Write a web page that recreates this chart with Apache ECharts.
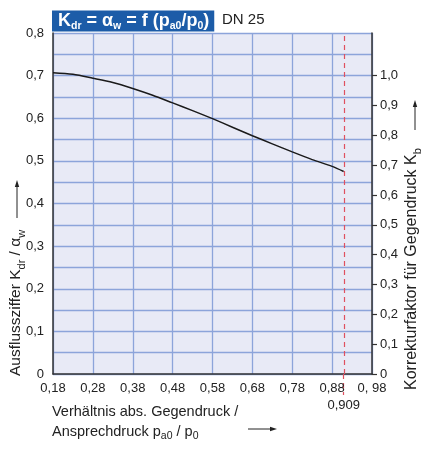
<!DOCTYPE html>
<html>
<head>
<meta charset="utf-8">
<script src="https://cdn.jsdelivr.net/npm/echarts@6/dist/echarts.min.js"></script>
<style>html,body{margin:0;padding:0;background:#fff}#c{width:422px;height:450px}</style>
</head>
<body>
<div id="c"></div>
<script>
// Data
const xValues = [0.18, 0.23, 0.28, 0.33, 0.38, 0.43, 0.48, 0.53, 0.58, 0.63, 0.68, 0.73, 0.78, 0.83, 0.88, 0.909];
const kdrValues = [0.707, 0.703, 0.694, 0.684, 0.670, 0.654, 0.636, 0.618, 0.599, 0.579, 0.559, 0.540, 0.521, 0.503, 0.487, 0.475];
const xTickLabels = ['0,18', '0,28', '0,38', '0,48', '0,58', '0,68', '0,78', '0,88', '0, 98'];
const yLeftLabels = ['0', '0,1', '0,2', '0,3', '0,4', '0,5', '0,6', '0,7', '0,8'];
const yRightValues = [0, 0.1, 0.2, 0.3, 0.4, 0.5, 0.6, 0.7, 0.8, 0.9, 1.0];
const yRightLabels = ['0', '0,1', '0,2', '0,3', '0,4', '0,5', '0,6', '0,7', '0,8', '0,9', '1,0'];
const limitValue = 0.909;
const limitLabel = '0,909';

const FONT = 'Liberation Sans, Arial, sans-serif';
const GRID_COLOR = '#8ca4da';
const AXIS_COLOR = '#333';
const TXT = '#222';
const RED = '#e0505f';

const chart = echarts.init(document.getElementById('c'), null, {renderer: 'canvas'});

const subRich = {
  s: {fontSize: 11, fontFamily: FONT, color: TXT, verticalAlign: 'bottom', lineHeight: 10, padding: [0, 0, -3, 0]}
};

chart.setOption({
  animation: false,
  textStyle: {fontFamily: FONT},
  title: [{
    left: 52, top: 8,
    padding: [1, 5, 0, 6],
    backgroundColor: '#1c5ca8',
    text: '{k|K}{s|dr}{k| = α}{s|w}{k| = f (p}{s|a0}{k|/p}{s|0}{k|)}',
    textStyle: {
      rich: {
        k: {fontSize: 18, fontWeight: 'bold', color: '#fff', fontFamily: FONT, lineHeight: 25},
        s: {fontSize: 10.5, fontWeight: 'bold', color: '#fff', fontFamily: FONT, lineHeight: 25, padding: [9, 0, 0, 0]}
      }
    }
  }],
  grid: {
    left: 53, right: 50, top: 33, bottom: 76,
    show: true, backgroundColor: '#e8eaf6', borderWidth: 0
  },
  xAxis: [{
    type: 'value', min: 0.18, max: 0.98, interval: 0.1,
    axisLine: {show: true, onZero: false, lineStyle: {color: AXIS_COLOR, width: 1.5}},
    axisTick: {show: false},
    axisLabel: {
      color: TXT, fontSize: 13, fontFamily: FONT, margin: 8,
      formatter: v => xTickLabels[Math.round((v - 0.18) * 10)]
    },
    splitLine: {show: true, lineStyle: {color: GRID_COLOR, width: 1.3}}
  }, {
    type: 'value', min: 0.18, max: 0.98, position: 'bottom',
    axisLine: {show: false},
    axisTick: {show: true, customValues: [limitValue], length: 21, lineStyle: {color: RED, width: 1.2, type: [5, 4]}},
    axisLabel: {show: true, customValues: [limitValue], color: TXT, fontSize: 13, fontFamily: FONT, margin: 25, formatter: () => limitLabel},
    splitLine: {show: false}
  }],
  yAxis: [{
    type: 'value', min: 0, max: 0.8, interval: 0.1,
    axisLine: {show: true, onZero: false, lineStyle: {color: AXIS_COLOR, width: 1.5}},
    axisTick: {show: false},
    axisLabel: {color: TXT, fontSize: 13, fontFamily: FONT, margin: 9,
      formatter: v => yLeftLabels[Math.round(v * 10)]},
    splitLine: {show: true, lineStyle: {color: GRID_COLOR, width: 1.3}},
    minorTick: {show: false, splitNumber: 2},
    minorSplitLine: {show: true, lineStyle: {color: GRID_COLOR, width: 1.3}}
  }, {
    type: 'value', min: 0, max: 0.8 / 0.7, position: 'right',
    axisLine: {show: true, onZero: false, lineStyle: {color: AXIS_COLOR, width: 1.5}},
    axisTick: {show: true, inside: false, length: 5, customValues: yRightValues, lineStyle: {color: AXIS_COLOR, width: 1.2}},
    axisLabel: {show: true, customValues: yRightValues, color: TXT, fontSize: 13, fontFamily: FONT, margin: 8,
      formatter: v => yRightLabels[Math.round(v * 10)]},
    splitLine: {show: false}
  }],
  series: [{
    type: 'line',
    xAxisIndex: 0, yAxisIndex: 0,
    data: xValues.map((x, i) => [x, kdrValues[i]]),
    smooth: 0.3,
    symbol: 'none',
    lineStyle: {color: '#1a1a1a', width: 1.5},
    markLine: {
      silent: true,
      symbol: ['none', 'none'],
      label: {show: false},
      lineStyle: {color: RED, width: 1.2, type: [5, 4]},
      data: [{xAxis: limitValue}]
    }
  }],
  graphic: [
    {type: 'text', left: 222, top: 12,
      style: {text: 'DN 25', fontSize: 15, fontFamily: FONT, fill: TXT}},
    {type: 'text', x: 16, y: 376, rotation: Math.PI / 2,
      style: {text: 'Ausflussziffer K{s|dr} / α{s|w}', fontSize: 15.5, fontFamily: FONT, fill: TXT,
        align: 'left', verticalAlign: 'middle', rich: subRich}},
    {type: 'line', shape: {x1: 17, y1: 218, x2: 17, y2: 185}, style: {stroke: TXT, lineWidth: 1}},
    {type: 'polygon', shape: {points: [[17, 180], [14.8, 187], [19.2, 187]]}, style: {fill: TXT}},
    {type: 'text', x: 412, y: 390, rotation: Math.PI / 2,
      style: {text: 'Korrekturfaktor für Gegendruck K{s|b}', fontSize: 16, fontFamily: FONT, fill: TXT,
        align: 'left', verticalAlign: 'middle', rich: subRich}},
    {type: 'line', shape: {x1: 415, y1: 130, x2: 415, y2: 105}, style: {stroke: TXT, lineWidth: 1}},
    {type: 'polygon', shape: {points: [[415, 100], [412.8, 107], [417.2, 107]]}, style: {fill: TXT}},
    {type: 'text', left: 52, top: 402,
      style: {text: 'Verhältnis abs. Gegendruck /\nAnsprechdruck p{s|a0} / p{s|0}', fontSize: 14.5, fontFamily: FONT, fill: TXT,
        lineHeight: 20, rich: {s: {fontSize: 10.5, fontFamily: FONT, fill: TXT, verticalAlign: 'bottom', lineHeight: 20, padding: [6, 0, 0, 0]}}}},
    {type: 'line', shape: {x1: 248, y1: 429, x2: 272, y2: 429}, style: {stroke: TXT, lineWidth: 1}},
    {type: 'polygon', shape: {points: [[277, 429], [270, 426.8], [270, 431.2]]}, style: {fill: TXT}}
  ]
});
</script>
</body>
</html>
